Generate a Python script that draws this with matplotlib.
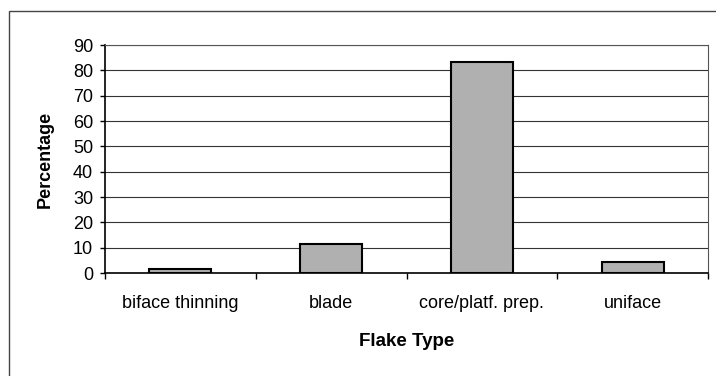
import numpy as np
import matplotlib.pyplot as plt
from matplotlib.patches import Rectangle

plt.rcParams['font.family'] = ['Liberation Sans', 'DejaVu Sans']

# Flake type percentages
flake_types = ["biface thinning", "blade", "core/platf. prep.", "uniface"]
percentages = [1.7, 11.3, 83.3, 4.2]
y_ticks = list(range(0, 100, 10))

fig = plt.figure(figsize=(7.16, 3.76), dpi=100)
ax = fig.add_axes([105 / 716, 1 - 273 / 376, 603 / 716, 228 / 376])

x = np.arange(len(flake_types))
ax.bar(x, percentages, width=0.41, color="#b0b0b0", edgecolor="black",
       linewidth=1.5, zorder=3)

ax.set_xlim(-0.5, len(flake_types) - 0.5)
ax.set_ylim(0, 90)
ax.set_yticks(y_ticks)
ax.set_xticks(x)
ax.set_xticklabels(flake_types, fontsize=13)
ax.set_xticks(np.arange(-0.5, len(flake_types)), minor=True)
ax.tick_params(axis="x", which="major", length=0, pad=16)
ax.tick_params(axis="x", which="minor", length=4, width=1, direction="out")
ax.tick_params(axis="y", labelsize=13, length=3.6, width=1, pad=5)

ax.yaxis.grid(True, color="#333333", linewidth=0.8, zorder=0)
ax.set_axisbelow(True)

for side in ["left", "bottom"]:
    ax.spines[side].set_linewidth(1.2)
    ax.spines[side].set_color("black")
for side in ["top", "right"]:
    ax.spines[side].set_linewidth(0.8)
    ax.spines[side].set_color("#555555")

ax.set_ylabel("Percentage", fontsize=13, fontweight="bold")
ax.set_xlabel("Flake Type", fontsize=13.5, fontweight="bold")
ax.yaxis.set_label_coords(-0.0995, 0.5)
ax.xaxis.set_label_coords(0.5, -0.30)
ax.xaxis.label.set_va("center")
ax.yaxis.label.set_va("center")

# outer chart frame
fig.patches.append(Rectangle((9 / 716, -0.05), 1.0, 1 - 11 / 376 + 0.05,
                             transform=fig.transFigure, fill=False,
                             edgecolor="#444444", linewidth=1.0))

fig.savefig("out.png", dpi=100)
